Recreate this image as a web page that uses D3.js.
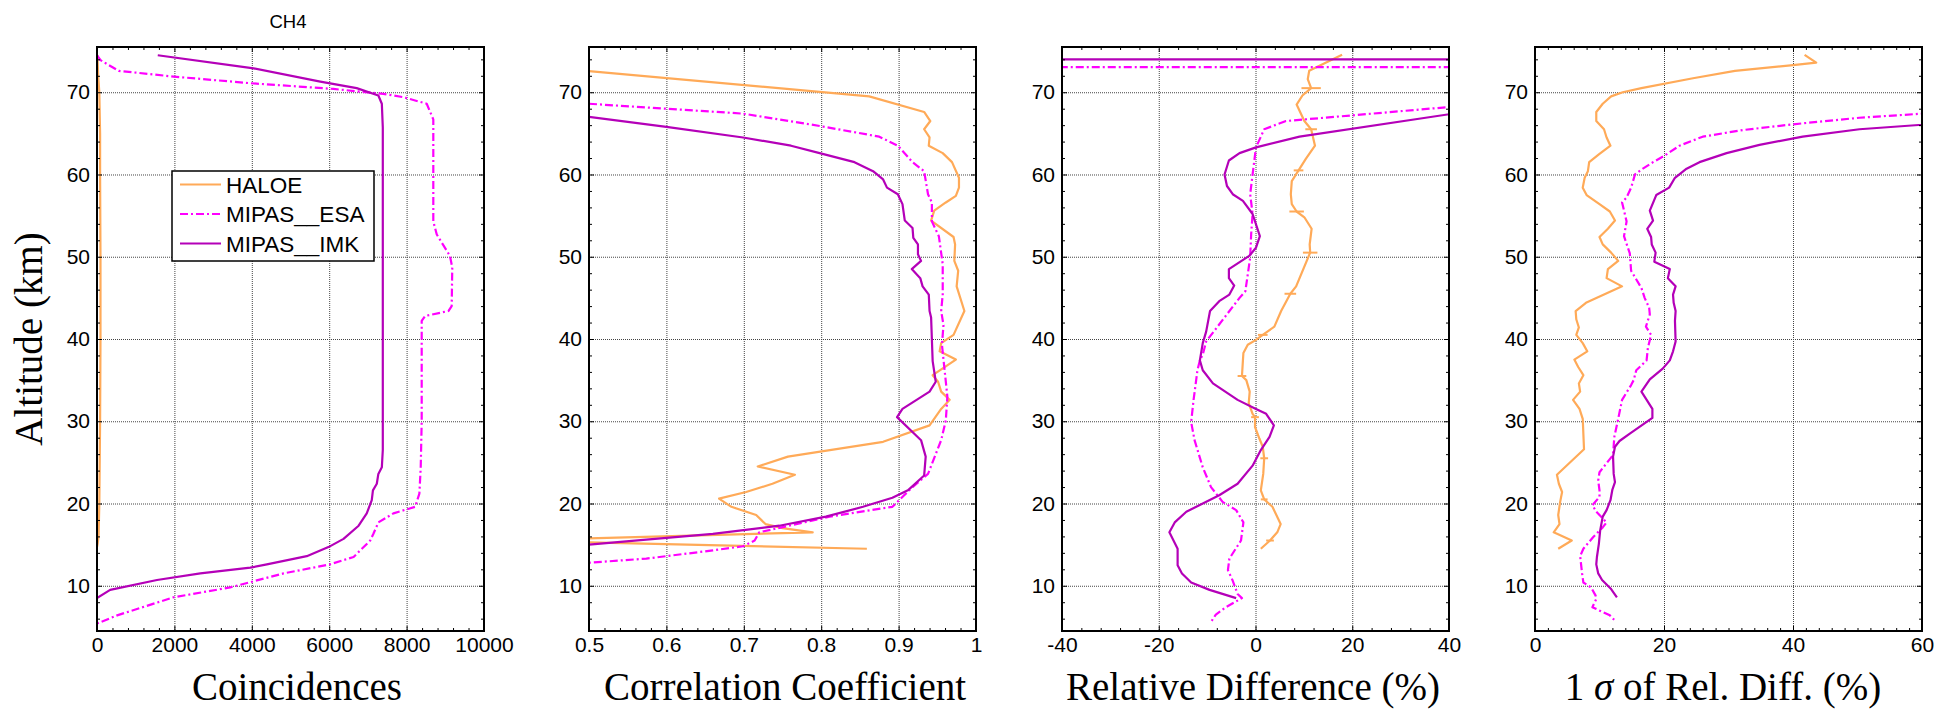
<!DOCTYPE html>
<html>
<head>
<meta charset="utf-8">
<script src="https://cdn.jsdelivr.net/npm/d3@7"></script>
<style>
  body { margin: 0; background: #fff; }
  svg { display: block; }
  .tick text { font-family: "Liberation Sans", Arial, sans-serif; fill: #000; }
  .grid line { stroke: #444; stroke-dasharray: 1,1; }
  .axis-title { font-family: "Liberation Serif", "Times New Roman", serif; font-size: 39px; }
</style>
</head>
<body>
<svg id="chart" width="1936" height="710"></svg>
<script>
(function () {

    // --- data: [altitude km, value] ---

    const seriesNames = ["HALOE", "MIPAS__ESA", "MIPAS__IMK"];
    const altTicks = [10, 20, 30, 40, 50, 60, 70];
    const altDomain = [4.5, 75.5];

    // panel 1: coincidences
    const coincHaloe = [[74.5, 10], [72, 30], [70, 60], [65, 80], [60, 80], [50, 90], [40, 90], [30, 80], [20, 60], [16, 40], [15.2, 20], [14.7, 0]];
    const coincEsa = [[74.5, 0], [73.9, 90], [72.6, 560], [71.9, 1980], [71.1, 3960], [70.4, 6110], [69.8, 7400], [69.4, 7920], [68.6, 8520], [66.7, 8690], [54.3, 8690], [52.7, 8780], [50.1, 9120], [48.7, 9180], [44.0, 9165], [43.4, 9080], [42.8, 8480], [42.2, 8390], [30, 8390], [24.4, 8365], [21.2, 8330], [19.6, 8220], [18.8, 7660], [17.7, 7270], [16.3, 7140], [15.5, 7060], [13.5, 6630], [12.6, 6020], [11.5, 4820], [9.8, 3440], [8.6, 1980], [6.4, 520], [5.4, 0]];
    const coincImk = [[74.5, 1570], [72.9, 4050], [71.3, 5770], [70.5, 6710], [69.6, 7270], [68.6, 7360], [65.7, 7385], [26.5, 7385], [24.4, 7360], [23.6, 7270], [22.4, 7230], [21.6, 7130], [20.4, 7100], [18.8, 6970], [17.3, 6760], [15.7, 6370], [14.7, 5980], [13.6, 5420], [12.6, 4390], [12.2, 3960], [11.5, 2670], [10.7, 1550], [9.5, 340], [8.5, 0]];

    // panel 2: correlation coefficient
    const corrHaloe = [[72.56, 0.5], [69.5, 0.862], [67.6, 0.933], [66.5, 0.941], [65.5, 0.933], [64.5, 0.940], [63.5, 0.939], [62.6, 0.957], [61.5, 0.969], [59.6, 0.978], [58.4, 0.978], [57.4, 0.974], [56.6, 0.961], [55.6, 0.946], [54.4, 0.942], [52.4, 0.971], [51.5, 0.973], [49.5, 0.972], [48.3, 0.977], [46.4, 0.975], [43.4, 0.985], [40.5, 0.971], [39.5, 0.955], [38.5, 0.953], [37.5, 0.974], [35.6, 0.944], [34.8, 0.951], [33.6, 0.955], [32.6, 0.966], [31.5, 0.955], [29.5, 0.940], [27.5, 0.880], [25.7, 0.757], [24.5, 0.718], [23.5, 0.766], [22.4, 0.737], [21.4, 0.703], [20.6, 0.668], [19.6, 0.684], [18.6, 0.716], [17.5, 0.728], [17.0, 0.750], [16.5, 0.789], [15.5, 0.40], [14.5, 0.859]];
    const corrEsa = [[68.6, 0.5], [67.4, 0.699], [65.9, 0.798], [64.6, 0.875], [63.5, 0.899], [61.5, 0.918], [60.4, 0.933], [57.6, 0.938], [56.6, 0.943], [54.3, 0.943], [52.5, 0.952], [49.1, 0.957], [45.4, 0.957], [43.4, 0.955], [41.7, 0.958], [39.3, 0.956], [36.6, 0.959], [33.0, 0.963], [30.1, 0.961], [27.7, 0.955], [23.6, 0.938], [22.0, 0.918], [19.6, 0.892], [18.4, 0.811], [16.5, 0.720], [15.5, 0.714], [14.8, 0.699], [14.3, 0.660], [13.3, 0.574], [12.8, 0.5]];
    const corrImk = [[67.0, 0.5], [65.8, 0.6], [64.5, 0.699], [63.5, 0.761], [62.6, 0.798], [61.5, 0.843], [60.4, 0.867], [59.4, 0.880], [58.4, 0.885], [57.6, 0.899], [56.4, 0.905], [54.4, 0.908], [53.5, 0.918], [52.3, 0.919], [51.5, 0.925], [50.3, 0.925], [49.5, 0.929], [48.5, 0.917], [47.4, 0.928], [46.4, 0.931], [45.4, 0.939], [43.4, 0.940], [42.6, 0.942], [37.3, 0.944], [34.8, 0.948], [33.6, 0.940], [31.5, 0.905], [30.5, 0.898], [27.7, 0.929], [25.7, 0.935], [23.4, 0.933], [21.6, 0.912], [20.7, 0.892], [19.6, 0.854], [18.4, 0.806], [17.3, 0.746], [16.3, 0.660], [15.6, 0.574], [15.0, 0.5]];

    // panel 3: relative difference (%)
    const diffHaloe = [[74.55, 17.9], [72.6, 11.1], [71.6, 10.8], [70.5, 11.5], [69.6, 9.7], [68.5, 8.5], [66.5, 10.1], [65.5, 11.5], [63.5, 12.3], [61.9, 10.4], [60.5, 8.9], [59.2, 7.5], [57.6, 7.3], [56.4, 7.5], [55.5, 8.5], [54.8, 10.1], [53.4, 11.6], [51.5, 11.2], [50.5, 11.3], [46.4, 8.4], [45.5, 7.2], [43.4, 5.3], [41.5, 3.9], [40.5, 1.5], [39.9, 0.1], [39.3, -1.6], [38.3, -2.5], [37.4, -2.6], [35.5, -2.8], [35.0, -1.9], [33.6, -1.2], [32.2, -1.4], [30.9, -0.6], [30.5, -0.1], [29.3, -0.1], [27.9, 0.8], [26.9, 1.5], [25.5, 1.8], [23.6, 1.6], [21.6, 1.1], [20.5, 1.8], [19.6, 3.5], [17.5, 5.2], [16.5, 4.5], [15.5, 3.0], [14.5, 1.1]];
    // HALOE error bars: [altitude, half width]
    const diffHaloeErr = [[70.5, 2.0], [65.5, 1.2], [60.5, 1.0], [55.5, 1.5], [50.5, 1.5], [45.5, 1.2], [40.5, 1.0], [35.5, 0.9], [30.5, 0.8], [25.5, 0.8], [20.5, 0.7], [15.5, 0.8]];
    const diffEsa = [[73.05, -100], [73.05, 100], [68.3, 42], [66.5, 6.3], [65.5, 1.8], [63.3, 0.1], [60.0, -0.6], [57.6, -1.1], [55.2, -0.6], [52.7, -0.9], [49.9, -1.1], [45.8, -2.1], [45.0, -3.3], [39.7, -10.2], [38.1, -10.9], [37.4, -11.5], [36.2, -12.0], [32.6, -12.8], [29.9, -13.3], [27.7, -12.6], [24.4, -10.9], [22.0, -9.2], [20.2, -6.8], [19.2, -4.0], [17.7, -2.5], [15.5, -3.0], [13.3, -5.4], [11.9, -5.7], [10.6, -4.7], [9.0, -3.7], [8.5, -2.8], [7.4, -6.1], [6.5, -8.2], [5.5, -9.3]];
    const diffImk = [[74, -100], [74, 100], [67.5, 42], [64.6, 9.1], [63.3, 0.1], [62.6, -3.3], [61.7, -5.5], [60.0, -6.4], [58.6, -5.9], [57.6, -4.7], [56.8, -2.6], [55.2, -0.6], [52.5, 0.9], [51.1, 0.1], [50.1, -1.3], [48.5, -5.5], [47.4, -5.5], [46.5, -4.4], [45.4, -5.4], [44.6, -7.5], [43.4, -9.4], [40.9, -10.2], [39.5, -10.9], [37.4, -11.5], [36.2, -10.9], [34.6, -8.8], [32.6, -3.7], [31.5, 0.1], [30.9, 2.2], [29.5, 3.8], [28.1, 2.9], [26.5, 1.1], [24.6, -0.6], [22.4, -3.7], [21.0, -7.5], [20.0, -10.9], [19.0, -14.3], [17.7, -16.7], [16.5, -17.8], [14.5, -16.1], [12.5, -16.1], [11.5, -15.2], [10.4, -13.3], [9.5, -9.5], [8.5, -4.0]];

    // panel 4: 1 sigma of relative difference (%)
    const sigmaHaloe = [[74.55, 41.8], [73.6, 43.6], [73.3, 40.0], [72.6, 31.0], [71.7, 24.5], [70.5, 16.5], [70.0, 13.6], [69.5, 11.8], [68.6, 10.5], [67.6, 9.5], [66.5, 9.5], [65.5, 10.7], [64.5, 11.1], [63.5, 11.7], [62.5, 10.0], [61.5, 8.4], [60.4, 8.2], [59.6, 7.7], [58.4, 7.4], [57.5, 8.0], [56.4, 10.0], [55.5, 11.6], [54.4, 12.4], [53.4, 11.3], [52.4, 10.0], [51.5, 10.5], [50.5, 11.8], [49.5, 12.9], [48.5, 11.3], [47.4, 11.1], [46.4, 13.5], [44.4, 7.9], [43.4, 6.3], [42.4, 6.4], [41.4, 6.8], [40.5, 6.4], [39.5, 7.4], [38.5, 8.1], [37.5, 6.1], [36.6, 6.7], [35.6, 7.5], [34.6, 6.8], [33.6, 7.0], [32.6, 5.9], [31.5, 6.9], [30.3, 7.4], [26.6, 7.6], [23.5, 3.4], [22.4, 3.7], [21.4, 4.2], [20.2, 3.9], [18.6, 3.6], [17.5, 3.8], [16.5, 2.9], [15.5, 5.7], [14.5, 3.6]];
    const sigmaEsa = [[67.7, 66], [66.9, 50.3], [66.1, 40.0], [65.4, 32.2], [64.6, 26.0], [63.5, 22.4], [62.3, 20.1], [61.5, 18.3], [60.6, 16.5], [60.0, 15.5], [58.4, 14.9], [57.2, 14.2], [56.6, 13.5], [54.3, 14.2], [52.5, 13.8], [50.4, 14.7], [48.3, 14.9], [46.2, 16.5], [45.0, 17.0], [43.8, 17.7], [43.0, 17.8], [41.5, 17.2], [40.5, 18.0], [38.9, 17.5], [37.4, 17.3], [36.2, 15.7], [35.0, 15.3], [34.4, 14.9], [32.6, 13.5], [30.3, 12.9], [28.1, 12.3], [25.9, 12.1], [24.8, 11.0], [23.8, 10.0], [22.8, 9.8], [21.6, 10.0], [20.8, 10.0], [19.8, 8.9], [19.0, 9.5], [17.7, 11.1], [17.1, 10.5], [15.9, 9.0], [14.5, 7.5], [13.6, 7.0], [11.5, 7.3], [10.4, 7.5], [9.8, 8.7], [8.8, 9.4], [8.4, 9.5], [7.4, 8.9], [6.8, 10.5], [6.4, 11.6], [5.6, 12.6]];
    const sigmaImk = [[66.5, 68], [65.5, 50.3], [64.6, 41.5], [63.6, 34.8], [62.6, 29.7], [61.5, 25.5], [60.7, 23.5], [59.6, 21.7], [58.4, 20.8], [57.5, 18.8], [55.6, 17.8], [54.4, 18.3], [53.4, 17.4], [52.4, 18.0], [51.5, 18.1], [50.5, 18.7], [49.4, 18.5], [48.5, 20.9], [47.4, 20.6], [46.4, 21.8], [45.4, 21.4], [44.4, 21.5], [43.4, 21.8], [42.2, 21.7], [39.7, 21.8], [38.5, 21.4], [37.4, 20.9], [36.4, 19.8], [35.1, 17.8], [33.6, 16.5], [31.5, 18.2], [30.4, 18.2], [28.5, 14.7], [27.6, 13.1], [26.9, 12.4], [25.7, 12.1], [23.6, 12.2], [22.6, 12.4], [21.7, 12.0], [20.4, 11.7], [19.2, 11.1], [18.4, 10.5], [16.7, 10.1], [15.1, 9.9], [13.5, 9.6], [12.6, 9.5], [11.5, 9.8], [10.7, 10.4], [9.6, 11.8], [8.6, 12.7]];

    // x axes: major ticks and titles
    const coincTicks = [0, 2000, 4000, 6000, 8000, 10000];
    const corrTicks = [0.5, 0.6, 0.7, 0.8, 0.9, 1];
    const diffTicks = [-40, -20, 0, 20, 40];
    const sigmaTicks = [0, 20, 40, 60];
    const xTitles = ["Coincidences", "Correlation Coefficient", "Relative Difference (%)", "1 σ of Rel. Diff. (%)"];

    // --- styling / layout ---
    const colors = ["#ffaa58", "#ff00ff", "#b400b8"];
    const dashes = [null, "8,3,2,3", null];
    const panelLeft = [97, 589, 1062, 1535];
    const titleCentre = [297, 785, 1253, 1723];
    const panelTop = 47, W = 387, H = 584;

    // plain hyphen for negatives, like the original
    const plain = d => String(d);

    const panels = [
        { series: [coincHaloe, coincEsa, coincImk], domain: [0, 10000], ticks: coincTicks, minor: 400, fmt: plain },
        { series: [corrHaloe, corrEsa, corrImk], domain: [0.5, 1], ticks: corrTicks, minor: 0.02, fmt: plain },
        { series: [diffHaloe, diffEsa, diffImk], domain: [-40, 40], ticks: diffTicks, minor: 4, fmt: plain },
        { series: [sigmaHaloe, sigmaEsa, sigmaImk], domain: [0, 60], ticks: sigmaTicks, minor: 2, fmt: plain }
    ];

    const svg = d3.select("#chart");
    const y = d3.scaleLinear().domain(altDomain).range([H, 0]);
    const altMinor = d3.range(6, 76, 2).filter(v => v % 10 !== 0);

    const styleAxis = sel => {
        sel.select(".domain").remove();
        sel.selectAll(".tick line").attr("stroke", "#000");
    };

    panels.forEach((p, i) => {
        const g = svg.append("g").attr("transform", `translate(${panelLeft[i]},${panelTop})`);
        const x = d3.scaleLinear().domain(p.domain).range([0, W]);
        const xMinor = d3.range(p.domain[0], p.domain[1] + p.minor / 2, p.minor)
            .filter(v => !p.ticks.some(t => Math.abs(t - v) < p.minor / 10));

        // grid
        g.append("g").attr("class", "grid")
            .call(d3.axisBottom(x).tickValues(p.ticks).tickSize(H).tickFormat(""))
            .call(s => s.select(".domain").remove());
        g.append("g").attr("class", "grid")
            .call(d3.axisRight(y).tickValues(altTicks).tickSize(W).tickFormat(""))
            .call(s => s.select(".domain").remove());

        // curves
        g.append("clipPath").attr("id", `clip${i}`)
            .append("rect").attr("width", W).attr("height", H);
        const plot = g.append("g").attr("clip-path", `url(#clip${i})`);
        const line = d3.line().x(d => x(d[1])).y(d => y(d[0]));

        p.series.forEach((data, k) => {
            plot.append("path")
                .datum(data)
                .attr("d", line)
                .attr("fill", "none")
                .attr("stroke", colors[k])
                .attr("stroke-width", 2.2)
                .attr("stroke-linejoin", "round")
                .attr("stroke-dasharray", dashes[k]);
        });

        // HALOE error bars on the relative difference panel
        if (i === 2) {
            const centre = alt => diffHaloe.find(d => d[0] === alt)[1];
            plot.selectAll("line.err")
                .data(diffHaloeErr)
                .join("line")
                .attr("class", "err")
                .attr("x1", d => x(centre(d[0]) - d[1]))
                .attr("x2", d => x(centre(d[0]) + d[1]))
                .attr("y1", d => y(d[0]))
                .attr("y2", d => y(d[0]))
                .attr("stroke", colors[0])
                .attr("stroke-width", 2);
        }

        // ticks on all four sides, pointing inwards
        g.append("g").attr("transform", `translate(0,${H})`)
            .call(d3.axisBottom(x).tickValues(p.ticks).tickSizeInner(-5).tickSizeOuter(0).tickPadding(6).tickFormat(p.fmt))
            .call(styleAxis)
            .selectAll("text").attr("font-size", 21);
        g.append("g").attr("transform", `translate(0,${H})`)
            .call(d3.axisBottom(x).tickValues(xMinor).tickSize(-3).tickFormat(""))
            .call(styleAxis);
        g.append("g")
            .call(d3.axisTop(x).tickValues(p.ticks).tickSize(-5).tickFormat(""))
            .call(styleAxis);
        g.append("g")
            .call(d3.axisTop(x).tickValues(xMinor).tickSize(-3).tickFormat(""))
            .call(styleAxis);
        g.append("g")
            .call(d3.axisLeft(y).tickValues(altTicks).tickSizeInner(-5).tickSizeOuter(0).tickPadding(7).tickFormat(plain))
            .call(styleAxis)
            .selectAll("text").attr("font-size", 21);
        g.append("g")
            .call(d3.axisLeft(y).tickValues(altMinor).tickSize(-3).tickFormat(""))
            .call(styleAxis);
        g.append("g").attr("transform", `translate(${W},0)`)
            .call(d3.axisRight(y).tickValues(altTicks).tickSize(-5).tickFormat(""))
            .call(styleAxis);
        g.append("g").attr("transform", `translate(${W},0)`)
            .call(d3.axisRight(y).tickValues(altMinor).tickSize(-3).tickFormat(""))
            .call(styleAxis);

        // frame
        g.append("rect")
            .attr("width", W).attr("height", H)
            .attr("fill", "none").attr("stroke", "#000").attr("stroke-width", 2);

        // x title
        const t = g.append("text")
            .attr("class", "axis-title")
            .attr("x", titleCentre[i] - panelLeft[i])
            .attr("y", 700 - panelTop)
            .attr("text-anchor", "middle");
        if (i === 3) {
            t.append("tspan").text("1 ");
            t.append("tspan").attr("font-style", "italic").text("σ");
            t.append("tspan").text(" of Rel. Diff. (%)");
        } else {
            t.text(xTitles[i]);
        }

        // legend inside the first panel
        if (i === 0) {
            const lg = g.append("g").attr("transform", "translate(75,124)");
            lg.append("rect")
                .attr("width", 202).attr("height", 90)
                .attr("fill", "#fff").attr("stroke", "#000").attr("stroke-width", 1.5);
            seriesNames.forEach((name, k) => {
                const yy = 13.5 + k * 29.5;
                lg.append("line")
                    .attr("x1", 8).attr("x2", 49).attr("y1", yy).attr("y2", yy)
                    .attr("stroke", colors[k]).attr("stroke-width", 2.2)
                    .attr("stroke-dasharray", dashes[k]);
                lg.append("text")
                    .attr("x", 54).attr("y", yy)
                    .attr("dy", "0.36em")
                    .attr("font-family", "'Liberation Sans', Arial, sans-serif")
                    .attr("font-size", 22.5)
                    .text(name);
            });
        }
    });

    // species label and y title
    svg.append("text")
        .attr("x", 288).attr("y", 28)
        .attr("text-anchor", "middle")
        .attr("font-family", "'Liberation Sans', Arial, sans-serif")
        .attr("font-size", 18.5)
        .text("CH4");

    svg.append("text")
        .attr("class", "axis-title")
        .attr("transform", `translate(42,${panelTop + H / 2}) rotate(-90)`)
        .attr("text-anchor", "middle")
        .text("Altitude (km)");

})();
</script>
</body>
</html>
